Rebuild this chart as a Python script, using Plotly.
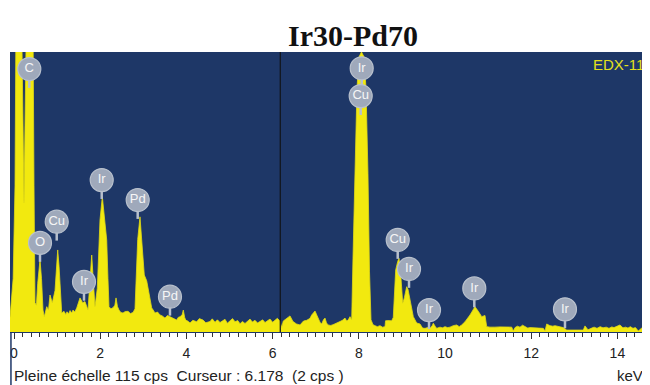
import plotly.graph_objects as go

# ---- spectrum data (keV, cps) ----
energy_kev = [
    -0.093, -0.02, 0.023, 0.046, 0.116, 0.174, 0.209, 0.232, 0.255, 0.29, 0.371, 0.441, 0.464, 0.487,
    0.52, 0.55, 0.603, 0.638, 0.673, 0.703, 0.759, 0.80, 0.835, 0.889, 0.951, 0.986, 1.014, 1.045,
    1.067, 1.107, 1.16, 1.20, 1.23, 1.27, 1.30, 1.34, 1.369, 1.41, 1.455, 1.50, 1.531, 1.594, 1.647,
    1.717, 1.763, 1.803, 1.84, 1.879, 1.933, 1.995, 2.049, 2.09, 2.131, 2.151, 2.18, 2.204, 2.25,
    2.297, 2.34, 2.367, 2.40, 2.436, 2.48, 2.529, 2.58, 2.645, 2.70, 2.761, 2.807, 2.84, 2.87, 2.923,
    2.977, 3.023, 3.079, 3.139, 3.195, 3.23, 3.271, 3.33, 3.387, 3.44, 3.503, 3.56, 3.619, 3.70,
    3.775, 3.81, 3.852, 3.90, 3.928, 3.96, 3.984, 4.03, 4.084, 4.15, 4.239, 4.30, 4.385, 4.45, 4.548,
    4.60, 4.664, 4.72, 4.78, 4.84, 4.896, 4.95, 5.012, 5.07, 5.128, 5.19, 5.244, 5.30, 5.36, 5.42,
    5.476, 5.53, 5.592, 5.65, 5.708, 5.77, 5.824, 5.88, 5.94, 6.00, 6.056, 6.11, 6.172, 6.21, 6.248,
    6.30, 6.334, 6.404, 6.473, 6.52, 6.555, 6.636, 6.717, 6.791, 6.868, 6.907, 6.984, 7.03, 7.06,
    7.10, 7.139, 7.18, 7.216, 7.25, 7.285, 7.35, 7.401, 7.45, 7.494, 7.564, 7.62, 7.68, 7.72, 7.756,
    7.796, 7.835, 7.865, 7.912, 7.958, 8.005, 8.063, 8.121, 8.167, 8.213, 8.248, 8.283, 8.33, 8.376,
    8.43, 8.492, 8.55, 8.608, 8.62, 8.677, 8.763, 8.80, 8.856, 8.903, 8.933, 8.972, 9.019, 9.056,
    9.111, 9.142, 9.188, 9.227, 9.265, 9.343, 9.420, 9.48, 9.536, 9.60, 9.652, 9.70, 9.729, 9.77,
    9.807, 9.884, 9.94, 10.0, 10.06, 10.116, 10.19, 10.271, 10.33, 10.387, 10.464, 10.58, 10.64,
    10.696, 10.773, 10.852, 10.928, 10.968, 11.044, 11.10, 11.16, 11.276, 11.392, 11.548, 11.585,
    11.624, 11.68, 11.74, 11.80, 11.856, 11.92, 11.972, 12.088, 12.204, 12.281, 12.32, 12.36, 12.436,
    12.50, 12.552, 12.668, 12.745, 12.824, 12.95, 13.016, 13.10, 13.209, 13.248, 13.318, 13.404,
    13.46, 13.527, 13.60, 13.666, 13.74, 13.805, 13.87, 13.921, 13.98, 14.06, 14.13, 14.19, 14.246,
    14.30, 14.362, 14.42, 14.485, 14.564, 14.62, 14.68, 14.72,
]
counts_cps = [
    6, 22, 60, 130, 140, 132, 85, 53, 85, 132, 140, 128, 60, 12,
    11, 20, 29.6, 22, 9, 6.3, 10.4, 9, 15.2, 12, 17, 28, 33.7, 27,
    21, 7.8, 8.5, 7.2, 8.3, 7.5, 8.8, 7.8, 9, 8.2, 9.9, 12, 14, 12, 12.5,
    9, 20, 31.6, 21, 10.4, 18, 46, 55.6, 48, 40, 37.8, 22, 10.4, 9.5,
    10, 11, 14, 10.5, 9, 8, 7.8, 8.4, 8.5, 7.6, 8, 9.5, 30, 38, 47.3,
    35, 23.4, 21, 14.5, 9.9, 9, 7.8, 8.2, 7, 6.6, 5.7, 6.8, 6.3, 5.4,
    4.9, 6, 6.3, 7, 9, 6, 4.9, 4.5, 3.7, 4.8, 4.2, 5.5, 4.9, 3.8, 4.3,
    5.4, 4.0, 5.0, 3.9, 4.6, 5.2, 3.6, 4.5, 5.5, 4.2, 4.7, 3.4, 4.3, 3.5, 4.6,
    5.3, 4.1, 4.8, 3.7, 4.4, 5.0, 3.9, 4.6, 5.3, 4.0, 4.8, 5.6, 4.5, 1.8, 4.5,
    5.2, 5.8, 6.6, 4.3, 3.8, 3.3, 2.9, 4.5, 4.8, 5.6, 7.0, 8.6, 6.8, 5.7,
    4.0, 3.3, 5.0, 5.7, 3.8, 2.9, 2.7, 3.0, 3.3, 3.6, 4.3, 4.8, 5.7, 4.5, 5.0,
    6.3, 5, 30, 70, 100, 113, 115, 113, 100, 65, 25, 5, 3, 2.6,
    2.2, 2.6, 2.0, 2.2, 4.6, 4.7, 4.6, 6, 25.5, 29, 30.3, 24, 11.8, 14,
    18.6, 17.5, 13, 9, 6.3, 3.7, 3.3, 1.6, 1.5, 1.8, 1.5, 2.5, 3.6, 2.4,
    1.5, 2.0, 1.7, 2.2, 1.8, 2.0, 2.6, 2.9, 2.2, 2.9, 4.2, 7.0, 8.5,
    10.4, 8.5, 6.3, 6.8, 2.2, 2.0, 2.1, 2.0, 2.1, 2.0, 2.0, 0.4,
    1.8, 2.4, 2.0, 2.8, 2.2, 1.6, 1.8, 1.6, 1.7, 1.5, 0.4, 3.3, 2.6,
    2.4, 2.6, 2.2, 1.8, 0.8, 0.8, 0.9, 0.8, 0.8, 2.5, 0.9, 1.6,
    2.0, 1.5, 2.2, 1.7, 2.0, 1.5, 2.1, 1.8, 2.4, 2.9, 1.7, 2.0, 1.6,
    2.2, 1.5, 1.8, 0.4, 1.6, 2.0, 1.4, 1.5,
]

# ---- element labels ----
label_text = ["C", "O", "Cu", "Ir", "Ir", "Pd", "Pd", "Ir", "Cu", "Cu", "Ir", "Ir", "Ir", "Ir"]
label_kev = [0.355, 0.603, 0.991, 1.624, 2.035, 2.870, 3.619, 8.067, 8.044, 8.903, 9.165, 9.629, 10.680, 12.784]
label_cps = [108.0, 36.6, 45.3, 20.6, 62.4, 54.2, 14.5, 108.3, 96.9, 37.8, 25.9, 9.0, 17.9, 9.3]

tick_vals = [0, 2, 4, 6, 8, 10, 12, 14]
tick_text = ["0", "2", "4", "6", "8", "10", "12", "14"]

full_scale_cps = 115
cursor_kev = 6.178
cursor_cps = 2
title_text = "Ir30-Pd70"
tag_text = "EDX-11"

FONT = "Liberation Sans, Arial, sans-serif"
NAVY = "#1e3767"
YELLOW = "#f2e90f"
BUBBLE = "#9fa9bb"
NB = "\u00a0"

fig = go.Figure()

fig.add_trace(go.Scatter(
    x=energy_kev, y=counts_cps, mode="lines",
    line=dict(color="#e2da14", width=0.8),
    fill="tozeroy", fillcolor=YELLOW, hoverinfo="skip", showlegend=False,
))

# stems below the label bubbles (offset in px converted to cps)
px_per_cps = 280 / full_scale_cps
stem_cps = [c - 14 / px_per_cps for c in label_cps]
fig.add_trace(go.Scatter(
    x=label_kev, y=stem_cps, mode="markers",
    marker=dict(symbol="line-ns", size=7, line=dict(color="#b7bfcc", width=2.5)),
    hoverinfo="skip", showlegend=False, cliponaxis=False,
))
fig.add_trace(go.Scatter(
    x=label_kev, y=label_cps, mode="markers+text", text=label_text,
    textposition="middle center",
    textfont=dict(family=FONT, size=13, color="#f6f6f6"),
    marker=dict(symbol="circle", size=23, color=BUBBLE, line=dict(color="#b9c1cd", width=1.2)),
    hoverinfo="skip", showlegend=False, cliponaxis=False,
))

status_text = (f"Pleine échelle {full_scale_cps} cps{NB}{NB}Curseur : {cursor_kev}"
               f"{NB}{NB}({cursor_cps} cps )")

# page body adds an 8px margin, so the figure is 8px smaller on each axis
fig.update_layout(
    width=642, height=377,
    margin=dict(l=2, r=3, t=44, b=53),
    paper_bgcolor="white", plot_bgcolor=NAVY,
    showlegend=False,
    xaxis=dict(
        range=[-0.093, 14.687], showgrid=False, zeroline=False,
        tickmode="array", tickvals=tick_vals, ticktext=tick_text,
        ticks="outside", ticklen=6, tickwidth=1, tickcolor="#333333",
        minor=dict(dtick=0.2, ticks="outside", ticklen=4, tickcolor="#333333", showgrid=False),
        tickfont=dict(family=FONT, size=14, color="#222222"),
        ticklabelstandoff=2,
        showline=True, linecolor=NAVY, linewidth=1,
    ),
    yaxis=dict(range=[0, full_scale_cps], visible=False, showgrid=False, zeroline=False),
    shapes=[
        dict(type="line", xref="x", yref="paper", x0=cursor_kev, x1=cursor_kev, y0=0, y1=1,
             line=dict(color="#111418", width=1.2), layer="above"),
        dict(type="line", xref="paper", yref="paper", x0=0.0015, x1=0.0015, y0=-0.19, y1=0,
             line=dict(color=NAVY, width=1.5)),
    ],
    annotations=[
        dict(text="<b>" + title_text + "</b>", xref="paper", yref="paper", x=0.5377, y=1.06,
             xanchor="center", yanchor="middle", showarrow=False,
             font=dict(family="Liberation Serif, Times New Roman, serif", size=30, color="#111111")),
        dict(text=tag_text, xref="paper", yref="paper", x=0.998, y=0.957,
             xanchor="right", yanchor="middle", showarrow=False,
             font=dict(family=FONT, size=15, color="#e4e01c")),
        dict(text=status_text,
             xref="paper", yref="paper", x=0.003, y=-0.157, xanchor="left", yanchor="middle",
             showarrow=False, font=dict(family=FONT, size=15.5, color="#222222")),
        dict(text="keV", xref="paper", yref="paper", x=0.997, y=-0.157, xanchor="right",
             yanchor="middle", showarrow=False, font=dict(family=FONT, size=15, color="#222222")),
    ],
)

fig.write_html("out.html")
